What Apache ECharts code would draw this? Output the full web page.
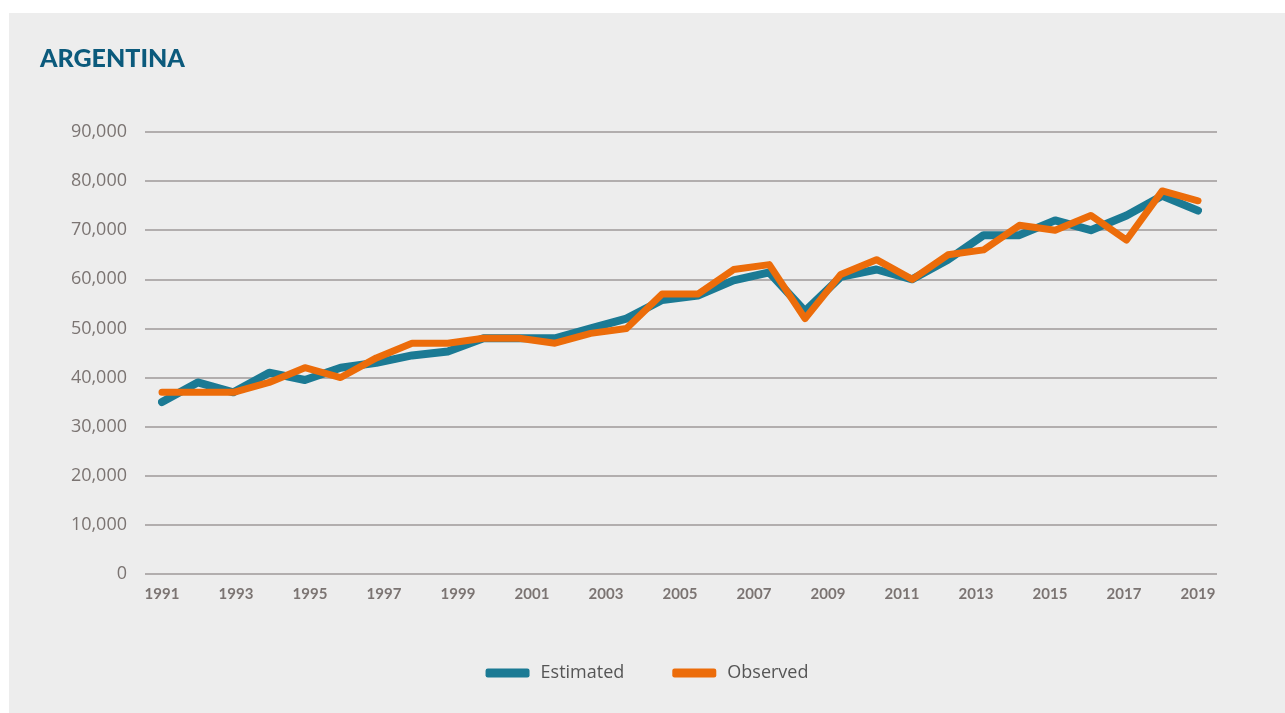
<!DOCTYPE html>
<html>
<head>
<meta charset="utf-8">
<script src="https://cdn.jsdelivr.net/npm/echarts@6/dist/echarts.min.js"></script>
<style>
  html, body { margin: 0; padding: 0; background: #ffffff; }
  #chart { position: absolute; left: 9px; top: 13px; width: 1276px; height: 700px; background: #ededed; }
</style>
</head>
<body>
<div id="chart"></div>
<script>
// axis labels shown under the chart
const tickYears = ['1991', '1993', '1995', '1997', '1999', '2001', '2003', '2005', '2007', '2009', '2011', '2013', '2015', '2017', '2019'];
// the plotted points (30 of them, spread evenly across the label span)
const pointYears = ['1990', '1991', '1992', '1993', '1994', '1995', '1996', '1997', '1998', '1999',
  '2000', '2001', '2002', '2003', '2004', '2005', '2006', '2007', '2008', '2009',
  '2010', '2011', '2012', '2013', '2014', '2015', '2016', '2017', '2018', '2019'];
const estimated = [35000, 39000, 37000, 41000, 39500, 42000, 43000, 44500, 45300, 48000,
  48000, 48000, 50000, 52000, 55800, 56700, 59800, 61400, 53500, 60500,
  62000, 60000, 64000, 69000, 69000, 72000, 70000, 73000, 77000, 74000];
const observed = [37000, 37000, 37000, 39000, 42000, 40000, 44000, 47000, 47000, 48000,
  48000, 47000, 49000, 50000, 57000, 57000, 62000, 63000, 52000, 61000,
  64000, 60000, 65000, 66000, 71000, 70000, 73000, 68000, 78000, 76000];

const gridPos = { top: 119, bottom: 139 };
const labelColor = '#7b7472';

const option = {
  backgroundColor: '#ededed',
  animation: false,
  title: {
    text: 'ARGENTINA',
    left: 26,
    top: 28,
    textStyle: { color: '#0b5a7c', fontFamily: 'Lato', fontWeight: 900, fontSize: 25 },
  },
  legend: {
    bottom: 26,
    left: 'center',
    icon: 'roundRect',
    itemWidth: 44,
    itemHeight: 9,
    itemGap: 48,
    textStyle: { color: '#555555', fontFamily: 'Open Sans', fontSize: 18, padding: [0, 0, 0, 6] },
    data: ['Estimated', 'Observed'],
  },
  grid: [
    { left: 136, right: 68, top: gridPos.top, bottom: gridPos.bottom },
    { left: 153, right: 87, top: gridPos.top, bottom: gridPos.bottom },
  ],
  xAxis: [
    { type: 'category', gridIndex: 0, data: pointYears, show: false },
    {
      type: 'category',
      gridIndex: 1,
      data: tickYears,
      boundaryGap: false,
      axisLine: { show: false },
      axisTick: { show: false },
      axisLabel: { color: labelColor, fontFamily: 'Lato', fontWeight: 'bold', fontSize: 15, margin: 13 },
    },
    { type: 'category', gridIndex: 1, data: pointYears, boundaryGap: false, show: false },
  ],
  yAxis: [
    {
      type: 'value',
      gridIndex: 0,
      min: 0,
      max: 90000,
      interval: 10000,
      axisLine: { show: false },
      axisTick: { show: false },
      splitLine: { lineStyle: { color: '#9e9998', width: 1.5 } },
      axisLabel: {
        color: labelColor,
        fontFamily: 'Open Sans',
        fontSize: 18,
        margin: 18,
        formatter: (v) => v.toLocaleString('en-US'),
      },
    },
    { type: 'value', gridIndex: 1, min: 0, max: 90000, show: false },
  ],
  series: [
    {
      name: 'Estimated',
      type: 'line',
      xAxisIndex: 2,
      yAxisIndex: 1,
      data: estimated,
      symbol: 'none',
      color: '#1b7a94',
      lineStyle: { width: 8, cap: 'round', join: 'round' },
    },
    {
      name: 'Observed',
      type: 'line',
      xAxisIndex: 2,
      yAxisIndex: 1,
      data: observed,
      symbol: 'none',
      color: '#ec6c0a',
      lineStyle: { width: 7, cap: 'round', join: 'round' },
    },
  ],
};

const myChart = echarts.init(document.getElementById('chart'));
myChart.setOption(option);
window.addEventListener('resize', () => {
  myChart?.resize();
});
</script>
</body>
</html>
